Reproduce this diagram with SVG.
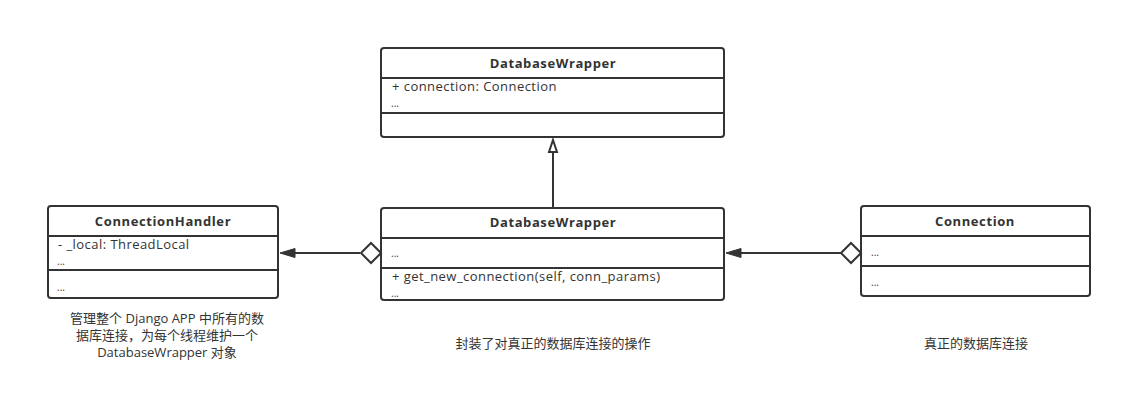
<svg xmlns="http://www.w3.org/2000/svg" width="1123" height="403" viewBox="0 0 1123 403">
<style>
.box{fill:#fff;stroke:#333;stroke-width:2}
.sep{stroke:#333;stroke-width:2}
.hd{font-family:"Open Sans","Noto Sans CJK SC",sans-serif;font-size:13px;font-weight:bold;fill:#333;text-anchor:middle;letter-spacing:0.6px}
.tx{font-family:"Open Sans","Noto Sans CJK SC",sans-serif;font-size:13px;fill:#333;letter-spacing:0.45px}
.dots{font-family:"Open Sans",sans-serif;font-size:10px;fill:#333}
.cap{font-family:"Open Sans","Noto Sans CJK SC",sans-serif;font-size:13px;fill:#333;text-anchor:middle}
.ln{stroke:#333;stroke-width:2;fill:none}
</style>
<rect width="1123" height="403" fill="#fff"/>
<g id="dbw-top">
<rect class="box" x="381" y="48" width="343" height="89" rx="3"/>
<line class="sep" x1="381" y1="78" x2="724" y2="78"/>
<line class="sep" x1="381" y1="113" x2="724" y2="113"/>
<text class="hd" x="553" y="68">DatabaseWrapper</text>
<text class="tx" x="392" y="91">+ connection: Connection</text>
<text class="dots" x="391" y="107">...</text>
</g>
<g id="conn-handler">
<rect class="box" x="48" y="206" width="230" height="92" rx="3"/>
<line class="sep" x1="48" y1="236" x2="278" y2="236"/>
<line class="sep" x1="48" y1="270" x2="278" y2="270"/>
<text class="hd" x="163" y="226">ConnectionHandler</text>
<text class="tx" x="58" y="249">- _local: ThreadLocal</text>
<text class="dots" x="57" y="265">...</text>
<text class="dots" x="57" y="291">...</text>
<text class="cap" x="167" y="323">管理整个 Django APP 中所有的数</text>
<text class="cap" x="167" y="340">据库连接，为每个线程维护一个</text>
<text class="cap" x="167" y="357">DatabaseWrapper 对象</text>
</g>
<g id="dbw-mid">
<rect class="box" x="381" y="208" width="343" height="92" rx="3"/>
<line class="sep" x1="381" y1="238" x2="724" y2="238"/>
<line class="sep" x1="381" y1="268" x2="724" y2="268"/>
<text class="hd" x="553" y="227">DatabaseWrapper</text>
<text class="dots" x="391" y="257">...</text>
<text class="tx" x="392" y="281">+ get_new_connection(self, conn_params)</text>
<text class="dots" x="391" y="297">...</text>
<text class="cap" x="553" y="348">封装了对真正的数据库连接的操作</text>
</g>
<g id="connection">
<rect class="box" x="861" y="206" width="229" height="90" rx="3"/>
<line class="sep" x1="861" y1="236" x2="1090" y2="236"/>
<line class="sep" x1="861" y1="266" x2="1090" y2="266"/>
<text class="hd" x="975" y="226">Connection</text>
<text class="dots" x="871" y="256">...</text>
<text class="dots" x="871" y="286">...</text>
<text class="cap" x="976" y="348">真正的数据库连接</text>
</g>
<g id="connectors">
<line class="ln" x1="553" y1="208" x2="553" y2="152"/>
<polygon points="553,140 557,152 549,152" fill="#fff" stroke="#333" stroke-width="2"/>
<line class="ln" x1="360" y1="253" x2="294" y2="253"/>
<polygon points="280,253 295,248.5 295,257.5" fill="#333" stroke="#333" stroke-width="1"/>
<polygon points="381,253 371,243 361,253 371,263" fill="#fff" stroke="#333" stroke-width="2"/>
<line class="ln" x1="841" y1="253" x2="740" y2="253"/>
<polygon points="726,253 741,248.5 741,257.5" fill="#333" stroke="#333" stroke-width="1"/>
<polygon points="861,253 851,243 841,253 851,263" fill="#fff" stroke="#333" stroke-width="2"/>
</g>
</svg>
